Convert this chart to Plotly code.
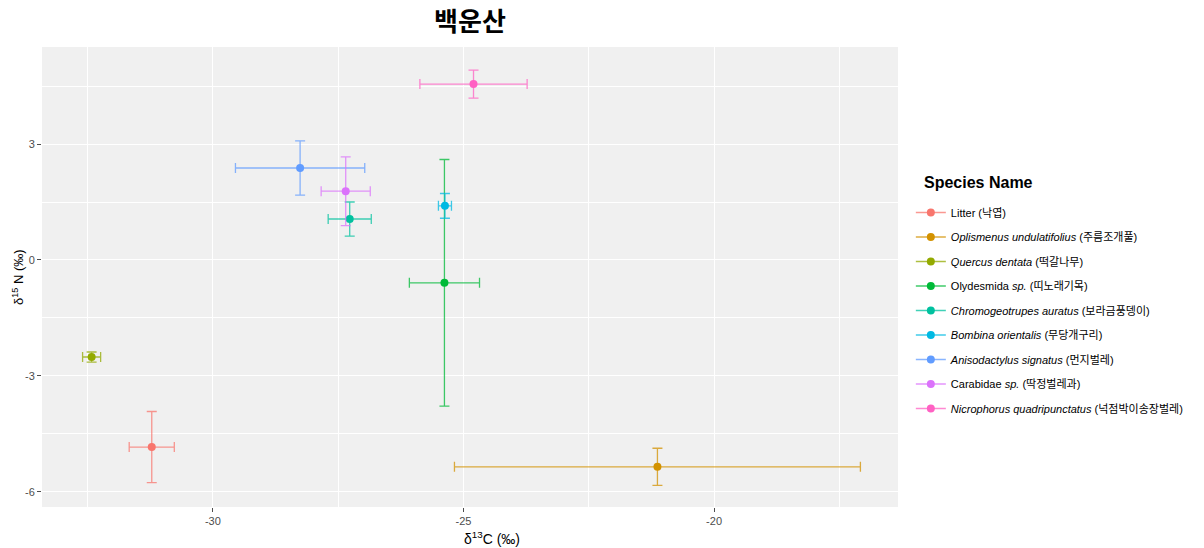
import plotly.graph_objects as go

species = [
    "Litter (낙엽)",
    "<i>Oplismenus undulatifolius</i> (주름조개풀)",
    "<i>Quercus dentata</i> (떡갈나무)",
    "Olydesmida <i>sp.</i> (띠노래기목)",
    "<i>Chromogeotrupes auratus</i> (보라금풍뎅이)",
    "<i>Bombina orientalis</i> (무당개구리)",
    "<i>Anisodactylus signatus</i> (먼지벌레)",
    "Carabidae <i>sp.</i> (딱정벌레과)",
    "<i>Nicrophorus quadripunctatus</i> (넉점박이송장벌레)",
]
d13c = [-31.22, -21.13, -32.42, -25.38, -27.27, -25.37, -28.26, -27.35, -24.80]
d15n = [-4.84, -5.35, -2.51, -0.59, 1.06, 1.40, 2.38, 1.78, 4.55]
d13c_sd = [0.45, 4.05, 0.18, 0.70, 0.43, 0.13, 1.29, 0.49, 1.07]
d15n_sd = [0.92, 0.48, 0.13, 3.19, 0.44, 0.32, 0.70, 0.89, 0.36]
colors = ["#F8766D", "#D39200", "#93AA00", "#00BA38", "#00C19F",
          "#00B9E3", "#619CFF", "#DB72FB", "#FF61C3"]


def rgba(h, a):
    h = h.lstrip("#")
    r, g, b = int(h[0:2], 16), int(h[2:4], 16), int(h[4:6], 16)
    return f"rgba({r},{g},{b},{a})"


fig = go.Figure()
for i, name in enumerate(species):
    fig.add_trace(go.Scatter(
        x=[d13c[i]], y=[d15n[i]], name=name, legendgroup=f"g{i}",
        mode="lines+markers",
        line=dict(color=rgba(colors[i], 0.75), width=1.5),
        marker=dict(color=colors[i], size=8),
        error_x=dict(type="data", array=[d13c_sd[i]], color=rgba(colors[i], 0.75),
                     thickness=1.3, width=5),
        error_y=dict(type="data", array=[d15n_sd[i]], color=rgba(colors[i], 0.75),
                     thickness=1.3, width=5),
    ))

font_family = "Liberation Sans, Arial, Noto Sans CJK KR, sans-serif"
H = 548.0
PW = 856.0
PH = H - 47 - 41

fig.update_layout(
    width=1204, height=548,
    margin=dict(l=42, r=306, t=47, b=41, autoexpand=False),
    paper_bgcolor="white",
    plot_bgcolor="#F0F0F0",
    font=dict(family=font_family, color="black"),
    title=dict(text="<b>백운산</b>", x=(42 + 898) / 2 / 1204, xanchor="center",
               y=1 - 22 / H, yanchor="middle",
               font=dict(size=26, family="Noto Sans CJK KR, sans-serif", color="black")),
    showlegend=True,
    legend=dict(
        font=dict(size=11, color="black"),
        x=1.015, xanchor="left", y=(H - 41 - 198) / PH, yanchor="top",
        bgcolor="white", tracegroupgap=5.5,
    ),
    annotations=[
        dict(text="<b>Species Name</b>", xref="paper", yref="paper",
             x=(922 - 42) / PW, xanchor="left",
             y=(H - 41 - 183) / PH, yanchor="middle",
             showarrow=False, font=dict(size=16, color="black")),
        dict(text="δ<sup>15</sup> N (‰)", xref="paper", yref="paper",
             x=(18 - 42) / PW, xanchor="center", y=0.5, yanchor="middle",
             textangle=-90, showarrow=False, font=dict(size=13, color="black")),
        dict(text="δ<sup>13</sup>C (‰)", xref="paper", yref="paper",
             x=(492 - 42) / PW, xanchor="center", y=-(538 - 507) / PH, yanchor="middle",
             showarrow=False, font=dict(size=14, color="black")),
    ],
    xaxis=dict(
        range=[-33.41, -16.33], tickmode="array", tickvals=[-30, -25, -20],
        ticktext=["-30", "-25", "-20"], automargin=False,
        showgrid=True, gridcolor="white", gridwidth=1.2, zeroline=False,
        minor=dict(tickvals=[-32.5, -27.5, -22.5, -17.5], showgrid=True,
                   gridcolor="white", gridwidth=0.6, ticks=""),
        ticks="outside", ticklen=4, tickcolor="#4D4D4D", tickwidth=1,
        tickfont=dict(size=11, color="#4D4D4D"),
        showline=False,
    ),
    yaxis=dict(
        range=[-6.39, 5.51], tickmode="array", tickvals=[3, 0, -3, -6],
        ticktext=["3", "0", "-3", "-6"], automargin=False,
        showgrid=True, gridcolor="white", gridwidth=1.2, zeroline=False,
        minor=dict(tickvals=[4.5, 1.5, -1.5, -4.5], showgrid=True,
                   gridcolor="white", gridwidth=0.6, ticks=""),
        ticks="outside", ticklen=4, tickcolor="#4D4D4D", tickwidth=1,
        tickfont=dict(size=11, color="#4D4D4D"),
        showline=False,
    ),
)

fig.write_html("out.html", config={"displayModeBar": False},
               post_script="document.body.style.margin='0px';")
